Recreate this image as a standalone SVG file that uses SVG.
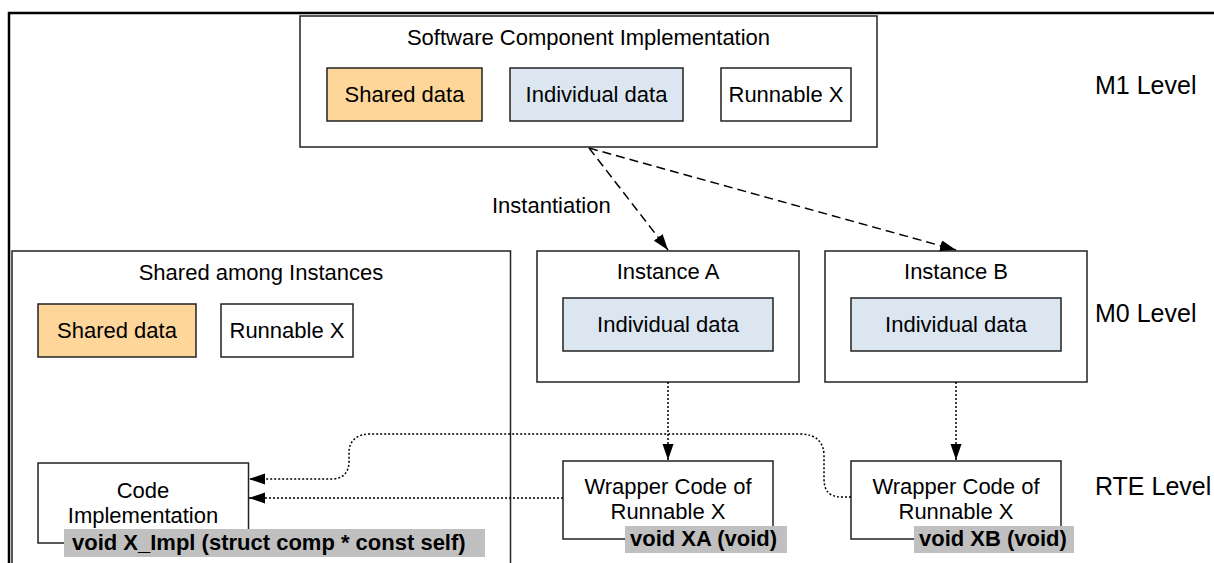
<svg xmlns="http://www.w3.org/2000/svg" width="1214" height="563" viewBox="0 0 1214 563">
<defs>
<marker id="arr" markerUnits="userSpaceOnUse" markerWidth="17" markerHeight="12" refX="16" refY="5.5" orient="auto">
<path d="M0,0 L16,5.5 L0,11 z" fill="#000"/>
</marker>
<style>
.box{fill:#fff;stroke:#222;stroke-width:1.5}
.shared{fill:#FFD699;stroke:#222;stroke-width:1.5}
.indiv{fill:#DCE6F0;stroke:#222;stroke-width:1.5}
.lbl{fill:#C0C0C0;stroke:none}
text{font-family:"Liberation Sans",Arial,sans-serif;font-size:22px;fill:#000}
.c{text-anchor:middle}
.b{font-weight:bold}
.lvl{font-size:25px}
.dash{fill:none;stroke:#000;stroke-width:1.5;stroke-dasharray:9,5}
.dot{fill:none;stroke:#000;stroke-width:1.5;stroke-dasharray:2,2}
</style>
</defs>
<rect width="1214" height="563" fill="#fff"/>
<rect x="9" y="13" width="1260" height="600" fill="none" stroke="#000" stroke-width="2.5"/>

<g id="swc">
<rect class="box" x="300" y="16" width="577" height="131"/>
<text class="c" x="588.5" y="45">Software Component Implementation</text>
<rect class="shared" x="327" y="68" width="155" height="53"/>
<text class="c" x="404.5" y="102">Shared data</text>
<rect class="indiv" x="510" y="68" width="173" height="53"/>
<text class="c" x="596.5" y="102">Individual data</text>
<rect class="box" x="721" y="68" width="130" height="53"/>
<text class="c" x="786" y="102">Runnable X</text>
</g>

<g id="levels">
<text class="lvl" x="1095" y="94">M1 Level</text>
<text class="lvl" x="1095" y="322">M0 Level</text>
<text class="lvl" x="1095" y="495">RTE Level</text>
</g>

<g id="sharedAmong">
<rect class="box" x="12" y="251" width="498.5" height="330"/>
<text class="c" x="261" y="280">Shared among Instances</text>
<rect class="shared" x="38" y="304" width="158" height="53"/>
<text class="c" x="117" y="338">Shared data</text>
<rect class="box" x="221" y="304" width="132" height="53"/>
<text class="c" x="287" y="338">Runnable X</text>
</g>

<g id="instanceA">
<rect class="box" x="537" y="251" width="262" height="131"/>
<text class="c" x="668" y="279">Instance A</text>
<rect class="indiv" x="563" y="298" width="210" height="53"/>
<text class="c" x="668" y="332">Individual data</text>
</g>

<g id="instanceB">
<rect class="box" x="825" y="251" width="262" height="131"/>
<text class="c" x="956" y="279">Instance B</text>
<rect class="indiv" x="851" y="298" width="210" height="53"/>
<text class="c" x="956" y="332">Individual data</text>
</g>

<g id="codeImpl">
<rect class="box" x="38" y="463" width="210.5" height="80"/>
<text class="c" x="143" y="498">Code</text>
<text class="c" x="143" y="523">Implementation</text>
<rect class="lbl" x="64" y="529" width="421" height="28"/>
<text class="b" x="72" y="550">void X_Impl (struct comp * const self)</text>
</g>

<g id="wrapperA">
<rect class="box" x="563" y="461" width="210" height="78"/>
<text class="c" x="668" y="494">Wrapper Code of</text>
<text class="c" x="668" y="519">Runnable X</text>
<rect class="lbl" x="625" y="526" width="162" height="27"/>
<text class="b" x="630" y="546">void XA (void)</text>
</g>

<g id="wrapperB">
<rect class="box" x="851" y="461" width="210" height="78"/>
<text class="c" x="956" y="494">Wrapper Code of</text>
<text class="c" x="956" y="519">Runnable X</text>
<rect class="lbl" x="914" y="526" width="160" height="27"/>
<text class="b" x="919" y="546">void XB (void)</text>
</g>

<g id="connectors">
<line class="dash" x1="589" y1="148" x2="668" y2="250" marker-end="url(#arr)"/>
<line class="dash" x1="589" y1="148" x2="956" y2="250" marker-end="url(#arr)"/>
<text x="492" y="213">Instantiation</text>
<line class="dot" x1="668" y1="382" x2="668" y2="460" marker-end="url(#arr)"/>
<line class="dot" x1="956" y1="382" x2="956" y2="460" marker-end="url(#arr)"/>
<line class="dot" x1="563" y1="498" x2="249" y2="498" marker-end="url(#arr)"/>
<path class="dot" d="M851,497 L842,497 C828,497 824,490 824,478 L824,456 C824,442 816,434 800,434 L370,434 C356,434 349,442 349,452 L349,462 C349,472 343,479 332,479 L249,479" marker-end="url(#arr)"/>
</g>
</svg>
